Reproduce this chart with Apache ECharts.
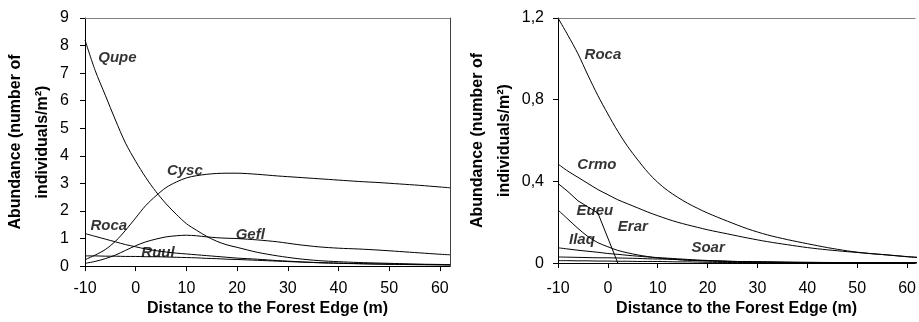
<!DOCTYPE html>
<html>
<head>
<meta charset="utf-8">
<script src="https://cdn.jsdelivr.net/npm/echarts@6/dist/echarts.min.js"></script>
<style>
  html, body { margin: 0; padding: 0; background: #fff; }
  #chart { width: 919px; height: 322px; }
</style>
</head>
<body>
<div id="chart"></div>
<script>
// distance to forest edge (m), shared sampling for most curves
const DIST = [-10, -8, -6, -4, -2, 0, 2, 4, 6, 8, 10, 12, 14, 16, 18, 20, 24, 28, 32, 36, 40, 44, 48, 52, 56, 60, 62];

// left panel
const QUPE   = [8.2, 7.1, 6.2, 5.3, 4.46, 3.8, 3.21, 2.7, 2.26, 1.88, 1.54, 1.3, 1.08, 0.9, 0.77, 0.68, 0.5, 0.37, 0.27, 0.2, 0.16, 0.13, 0.11, 0.09, 0.07, 0.06, 0.055];
const CYSC   = [0.23, 0.4, 0.6, 0.9, 1.3, 1.75, 2.2, 2.55, 2.85, 3.05, 3.2, 3.28, 3.33, 3.36, 3.37, 3.37, 3.33, 3.27, 3.22, 3.17, 3.12, 3.07, 3.03, 2.98, 2.93, 2.87, 2.84];
const GEFL   = [0.1, 0.17, 0.27, 0.4, 0.57, 0.74, 0.88, 0.98, 1.06, 1.1, 1.12, 1.1, 1.06, 1.03, 1.01, 1.0, 0.95, 0.88, 0.78, 0.7, 0.65, 0.62, 0.58, 0.53, 0.48, 0.43, 0.41];
const ROCA_L = [1.18, 1.08, 0.98, 0.88, 0.78, 0.7, 0.62, 0.56, 0.51, 0.47, 0.44, 0.41, 0.38, 0.35, 0.32, 0.29, 0.25, 0.2, 0.16, 0.12, 0.1, 0.085, 0.07, 0.06, 0.05, 0.045, 0.04];
const RUUL   = [0.37, 0.37, 0.36, 0.36, 0.35, 0.35, 0.34, 0.34, 0.33, 0.32, 0.31, 0.3, 0.28, 0.27, 0.25, 0.24, 0.21, 0.18, 0.15, 0.13, 0.11, 0.09, 0.08, 0.07, 0.06, 0.05, 0.045];

// right panel
const ROCA_R = [1.2, 1.115, 1.025, 0.92, 0.82, 0.73, 0.645, 0.57, 0.505, 0.445, 0.395, 0.355, 0.322, 0.293, 0.268, 0.245, 0.205, 0.168, 0.138, 0.115, 0.095, 0.076, 0.06, 0.048, 0.04, 0.032, 0.029];
const CRMO   = [0.485, 0.45, 0.42, 0.39, 0.36, 0.335, 0.31, 0.29, 0.27, 0.25, 0.232, 0.215, 0.2, 0.187, 0.175, 0.163, 0.143, 0.123, 0.105, 0.09, 0.076, 0.065, 0.056, 0.048, 0.04, 0.031, 0.027];
const ILAQ   = [0.26, 0.215, 0.17, 0.13, 0.1, 0.08, 0.062, 0.05, 0.04, 0.032, 0.025, 0.021, 0.017, 0.014, 0.012, 0.01, 0.008, 0.006, 0.005, 0.004, 0.004, 0.003, 0.003, 0.002, 0.002, 0.002, 0.002];
const SOAR   = [0.075, 0.069, 0.063, 0.058, 0.053, 0.047, 0.043, 0.038, 0.034, 0.03, 0.027, 0.024, 0.021, 0.018, 0.015, 0.013, 0.009, 0.007, 0.005, 0.004, 0.003, 0.003, 0.002, 0.002, 0.002, 0.001, 0.001];
const LOW_A  = [0.03, 0.029, 0.028, 0.027, 0.026, 0.026, 0.025, 0.024, 0.023, 0.021, 0.02, 0.019, 0.017, 0.015, 0.013, 0.012, 0.009, 0.007, 0.006, 0.004, 0.003, 0.003, 0.002, 0.002, 0.001, 0.001, 0.001];
const LOW_B  = [0.012, 0.012, 0.011, 0.011, 0.01, 0.01, 0.009, 0.009, 0.008, 0.008, 0.008, 0.007, 0.006, 0.006, 0.005, 0.004, 0.003, 0.003, 0.002, 0.002, 0.002, 0.001, 0.001, 0.001, 0.001, 0.001, 0.001];
const EUEU_X = [-10, -8, -6, -4, -2, 2];
const EUEU   = [0.39, 0.35, 0.305, 0.275, 0.245, 0];

// species tags (data coordinates)
const TAGS_L   = ['Qupe', 'Cysc', 'Roca', 'Ruul', 'Gefl'];
const TAGS_L_X = [-3.6, 9.7, -5.3, 4.4, 22.6];
const TAGS_L_Y = [7.54, 3.44, 1.46, 0.49, 1.15];
const TAGS_R   = ['Roca', 'Crmo', 'Eueu', 'Erar', 'Ilaq', 'Soar'];
const TAGS_R_X = [-1, -2.2, -2.6, 5, -5.2, 20.1];
const TAGS_R_Y = [1.02, 0.48, 0.257, 0.175, 0.112, 0.076];

const FONT = "'Liberation Sans', Arial, sans-serif";
const pairs = (xs, ys) => xs.map((x, i) => [x, ys[i]]);

function curve(name, grid, xs, ys, smooth) {
  return {
    name, type: 'line', xAxisIndex: grid * 2, yAxisIndex: grid * 2,
    data: pairs(xs, ys), showSymbol: false, symbol: 'none', smooth: smooth,
    lineStyle: { color: '#000', width: 1 }, silent: true, z: 3,
  };
}

function tags(grid, names, xs, ys) {
  return {
    type: 'scatter', xAxisIndex: grid * 2, yAxisIndex: grid * 2,
    data: names.map((n, i) => [xs[i], ys[i], n]),
    symbolSize: 0, silent: true, z: 5,
    label: {
      show: true, position: 'inside', formatter: p => p.data[2],
      fontFamily: FONT, fontSize: 15, fontWeight: 'bold', fontStyle: 'italic', color: '#000',
    },
  };
}

function xAxes(grid, max, labelMargin, nameGap) {
  return [
    {
      type: 'value', gridIndex: grid, min: -10, max: max, interval: 10,
      name: 'Distance to the Forest Edge (m)', nameLocation: 'middle', nameGap: nameGap,
      nameTextStyle: { fontFamily: FONT, fontSize: 16, fontWeight: 'bold', color: '#000' },
      axisLine: { onZero: false, lineStyle: { color: '#000', width: 1 } },
      axisTick: { inside: false, length: 5, lineStyle: { color: '#000' } },
      axisLabel: { fontFamily: FONT, fontSize: 16, color: '#000', margin: labelMargin, showMaxLabel: false },
      splitLine: { show: false },
    },
    {
      type: 'value', gridIndex: grid, position: 'top', min: -10, max: max,
      axisLine: { onZero: false, lineStyle: { color: '#808080', width: 1 } },
      axisTick: { show: false }, axisLabel: { show: false }, splitLine: { show: false },
    },
  ];
}

function yAxes(grid, max, interval, fmt, labelMargin, nameGap, rightBorder) {
  return [
    {
      type: 'value', gridIndex: grid, min: 0, max: max, interval: interval,
      name: 'Abundance (number of\nindividuals/m²)', nameLocation: 'middle', nameRotate: 90, nameGap: nameGap,
      nameTextStyle: { fontFamily: FONT, fontSize: 16, fontWeight: 'bold', color: '#000', lineHeight: 27 },
      axisLine: { onZero: false, lineStyle: { color: '#000', width: 1 } },
      axisTick: { inside: false, length: 5, lineStyle: { color: '#000' } },
      axisLabel: { fontFamily: FONT, fontSize: 16, color: '#000', margin: labelMargin, formatter: fmt },
      splitLine: { show: false },
    },
    {
      type: 'value', gridIndex: grid, position: 'right', min: 0, max: max,
      axisLine: { show: rightBorder, onZero: false, lineStyle: { color: '#404040', width: 1 } },
      axisTick: { show: false }, axisLabel: { show: false }, splitLine: { show: false },
    },
  ];
}

const chart = echarts.init(document.getElementById('chart'), null, { renderer: 'canvas' });

chart.setOption({
  animation: false,
  backgroundColor: '#fff',
  grid: [
    { left: 85, top: 18, right: 469, bottom: 52 },
    { left: 558, top: 18, right: 0, bottom: 55 },
  ],
  xAxis: [...xAxes(0, 62, 14, 34), ...xAxes(1, 61.6, 17, 37)],
  yAxis: [
    ...yAxes(0, 9, 1, v => String(v), 16, 21, true),
    ...yAxes(1, 1.2, 0.4, v => String(v).replace('.', ','), 14, 23, false),
  ],
  series: [
    curve('Qupe', 0, DIST, QUPE, 0.3),
    curve('Cysc', 0, DIST, CYSC, 0.3),
    curve('Gefl', 0, DIST, GEFL, 0.3),
    curve('Roca', 0, DIST, ROCA_L, 0.3),
    curve('Ruul', 0, DIST, RUUL, 0.3),
    tags(0, TAGS_L, TAGS_L_X, TAGS_L_Y),

    curve('Roca', 1, DIST, ROCA_R, 0.3),
    curve('Crmo', 1, DIST, CRMO, 0.3),
    curve('Ilaq', 1, DIST, ILAQ, 0.3),
    curve('Soar', 1, DIST, SOAR, 0.3),
    curve('Low A', 1, DIST, LOW_A, 0.3),
    curve('Low B', 1, DIST, LOW_B, 0.3),
    curve('Eueu', 1, EUEU_X, EUEU, false),
    tags(1, TAGS_R, TAGS_R_X, TAGS_R_Y),
  ],
});
</script>
</body>
</html>
